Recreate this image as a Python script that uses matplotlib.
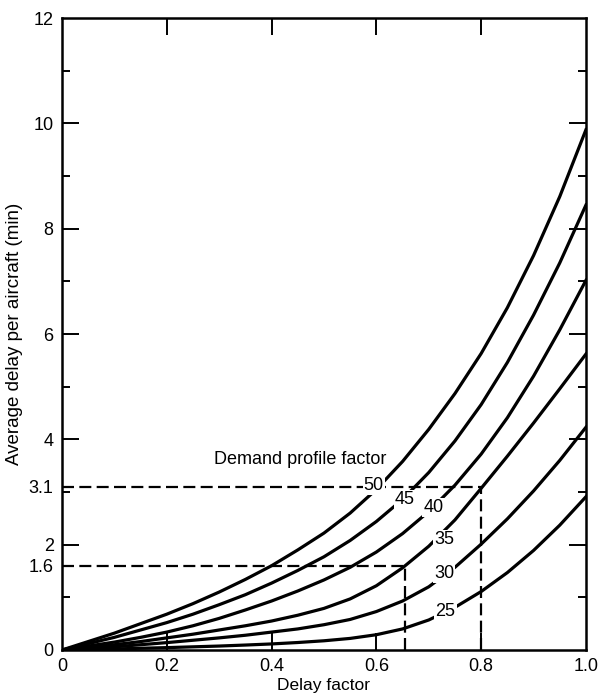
import numpy as np
import matplotlib
matplotlib.use('Agg')
from matplotlib import pyplot as plt

plt.rcParams['font.family'] = ['Liberation Sans', 'DejaVu Sans']

# delay factor grid and curve values
delay_factor = [0, 0.1, 0.15, 0.2, 0.25, 0.3, 0.35, 0.4, 0.45, 0.5, 0.55, 0.6, 0.65,
                0.7, 0.75, 0.8, 0.85, 0.9, 0.95, 1.0]
dpf_50 = [0, 0.32, 0.50, 0.68, 0.88, 1.10, 1.34, 1.60, 1.90, 2.22, 2.60, 3.05, 3.58,
          4.19, 4.87, 5.63, 6.50, 7.49, 8.61, 9.88]
dpf_45 = [0, 0.24, 0.38, 0.52, 0.68, 0.86, 1.05, 1.27, 1.51, 1.77, 2.08, 2.44, 2.86,
          3.37, 3.97, 4.66, 5.46, 6.36, 7.35, 8.45]
dpf_40 = [0, 0.15, 0.24, 0.34, 0.46, 0.60, 0.76, 0.93, 1.12, 1.33, 1.57, 1.86, 2.21,
          2.63, 3.13, 3.72, 4.41, 5.20, 6.08, 7.02]
dpf_35 = [0, 0.10, 0.16, 0.23, 0.30, 0.38, 0.46, 0.55, 0.66, 0.79, 0.97, 1.22, 1.56,
          1.97, 2.47, 3.07, 3.68, 4.31, 4.96, 5.62]
dpf_30 = [0, 0.06, 0.10, 0.14, 0.185, 0.23, 0.28, 0.34, 0.40, 0.48, 0.58, 0.73, 0.93,
          1.20, 1.57, 2.01, 2.49, 3.02, 3.60, 4.23]
dpf_25 = [0, 0.02, 0.033, 0.045, 0.06, 0.075, 0.094, 0.115, 0.142, 0.175, 0.22, 0.29, 0.40,
          0.57, 0.81, 1.11, 1.47, 1.89, 2.37, 2.91]

curves = [dpf_50, dpf_45, dpf_40, dpf_35, dpf_30, dpf_25]
curve_names = ['50', '45', '40', '35', '30', '25']
# label positions (x, y) on each curve
label_x = [0.595, 0.654, 0.709, 0.730, 0.729, 0.732]
label_y = [3.13, 2.86, 2.70, 2.10, 1.45, 0.74]

# worked example lines
ex_x = [0.655, 0.8]
ex_y = [1.6, 3.1]

fig = plt.figure(figsize=(6, 6.96), dpi=100)
ax = fig.add_axes([0.1033, 0.0661, 0.8733, 0.9080])

for ys in curves:
    ax.plot(delay_factor, ys, color='black', lw=2.3, solid_joinstyle='round', zorder=3)

for xx, yy in zip(ex_x, ex_y):
    ax.plot([0, xx], [yy, yy], color='black', lw=1.6, dashes=(5.4, 2.4), zorder=2)
    ax.plot([xx, xx], [0, yy], color='black', lw=1.6, dashes=(5.4, 2.4), zorder=2)

for name, lx, ly in zip(curve_names, label_x, label_y):
    ax.text(lx, ly, name, fontsize=13, ha='center', va='center', zorder=5,
            bbox=dict(facecolor='white', edgecolor='none', pad=0.8))

ax.text(0.29, 3.62, 'Demand profile factor', fontsize=13, ha='left', va='center')

ax.set_xlim(0, 1.0)
ax.set_ylim(0, 12)
ax.set_xticks([0, 0.2, 0.4, 0.6, 0.8, 1.0])
ax.set_xticklabels(['0', '0.2', '0.4', '0.6', '0.8', '1.0'])
yt = [0, 1.6, 2, 3.1, 4, 6, 8, 10, 12]
ax.set_yticks(yt)
ax.set_yticklabels(['0', '1.6', '2', '3.1', '4', '6', '8', '10', '12'])
ax.set_yticks([1, 3, 5, 7, 9, 11], minor=True)

ax.tick_params(which='major', direction='in', length=12, width=1.4, labelsize=13,
               top=True, right=True, pad=6)
ax.tick_params(which='minor', direction='in', length=6, width=1.4, right=True)
for t, v in zip(ax.yaxis.get_major_ticks(), yt):
    if v in (0, 1.6, 3.1, 12):
        t.tick1line.set_visible(False)
        t.tick2line.set_visible(False)
for t in ax.xaxis.get_major_ticks()[::5]:
    t.tick1line.set_visible(False)
    t.tick2line.set_visible(False)

for s in ax.spines.values():
    s.set_linewidth(1.8)

ax.set_xlabel('Delay factor', fontsize=12.5, labelpad=2)
ax.set_ylabel('Average delay per aircraft (min)', fontsize=13.5, labelpad=4)

plt.savefig('out.png', dpi=100)
plt.close()
